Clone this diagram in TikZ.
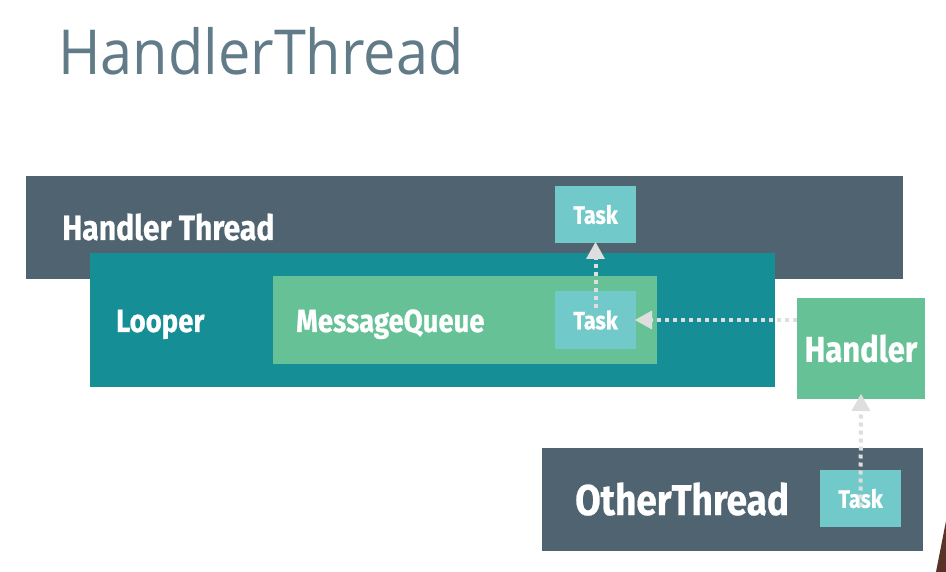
\documentclass[tikz,border=0pt]{standalone}
\usepackage{fontspec}
\setmainfont{Open Sans}
\newfontfamily\titlefont{Open Sans}[FakeStretch=0.93]
\newfontfamily\labelfont{Fira Sans}[FakeStretch=0.86, BoldFeatures={FakeBold=0.6}]
\usetikzlibrary{arrows.meta}

\definecolor{slate}{HTML}{4F6470}
\definecolor{tealbox}{HTML}{168E96}
\definecolor{greenbox}{HTML}{66C296}
\definecolor{taskbox}{HTML}{72C9C9}
\definecolor{titlegray}{HTML}{617B88}
\definecolor{flowgray}{HTML}{DEDEDE}
\definecolor{hair}{HTML}{5A3328}

\tikzset{
  panel/.style={fill=#1, draw=none, inner sep=0pt, outer sep=0pt},
  boxlabel/.style={text=white, font=\labelfont\bfseries, anchor=base west, inner sep=0pt},
  taskbox/.style={fill=taskbox, draw=none, minimum width=81pt, minimum height=57pt,
    inner sep=0pt, outer sep=0pt, text=white, font=\labelfont\bfseries\fontsize{25}{25}\selectfont},
  flow/.style={draw=flowgray, line width=4pt, dash pattern=on 4pt off 4pt,
    -{Triangle[length=17pt,width=19pt,fill=flowgray,line width=0pt]}, shorten >=-1pt}
}

\begin{document}
\begin{tikzpicture}[x=1pt,y=-1pt]
\useasboundingbox (0,0) rectangle (946,572);
\fill[white] (0,0) rectangle (946,572);

% heading
\node[anchor=base west, inner sep=0pt, text=titlegray,
  font=\titlefont\fontsize{62}{62}\selectfont] (title) at (58,75) {HandlerThread};

% handler thread, looper and its message queue
\path[panel=slate] (26,176) rectangle (903,279);
\node[boxlabel, font=\labelfont\bfseries\fontsize{35}{35}\selectfont] (htl) at (62,240) {Handler Thread};
\path[panel=tealbox] (90,253) rectangle (775,387);
\node[boxlabel, font=\labelfont\bfseries\fontsize{32}{32}\selectfont] (lpl) at (116,332) {Looper};
\path[panel=greenbox] (273,276) rectangle (657,364);
\node[boxlabel, font=\labelfont\bfseries\fontsize{32}{32}\selectfont] (mql) at (296,332) {MessageQueue};

% tasks inside the handler thread
\node[taskbox] (taskout) at (595.5,214.5) {Task};
\node[taskbox, minimum height=58pt] (taskq) at (595.5,320) {Task};

% handler
\node[panel=greenbox, minimum width=128pt, minimum height=101pt, text=white,
  font=\labelfont\bfseries\fontsize{36}{36}\selectfont] (handler) at (861,348.5) {Handler};

% other thread with its task
\path[panel=slate] (542,448) rectangle (923,551);
\node[boxlabel, font=\labelfont\bfseries\fontsize{43}{43}\selectfont] (otl) at (575,515) {OtherThread};
\node[taskbox] (taskot) at (860.5,498.5) {Task};

% message flow
\draw[flow] (handler.west |- taskq.east) -- (taskq.east);
\draw[flow] ([yshift=12pt]taskq.center) -- (taskout.south);
\draw[flow] ([yshift=-8pt]taskot.center) -- ([yshift=4pt]handler.south);

% edge of a figure at the corner
\fill[hair] (946,521) -- (946,572) -- (936,572) -- cycle;
\end{tikzpicture}
\end{document}
